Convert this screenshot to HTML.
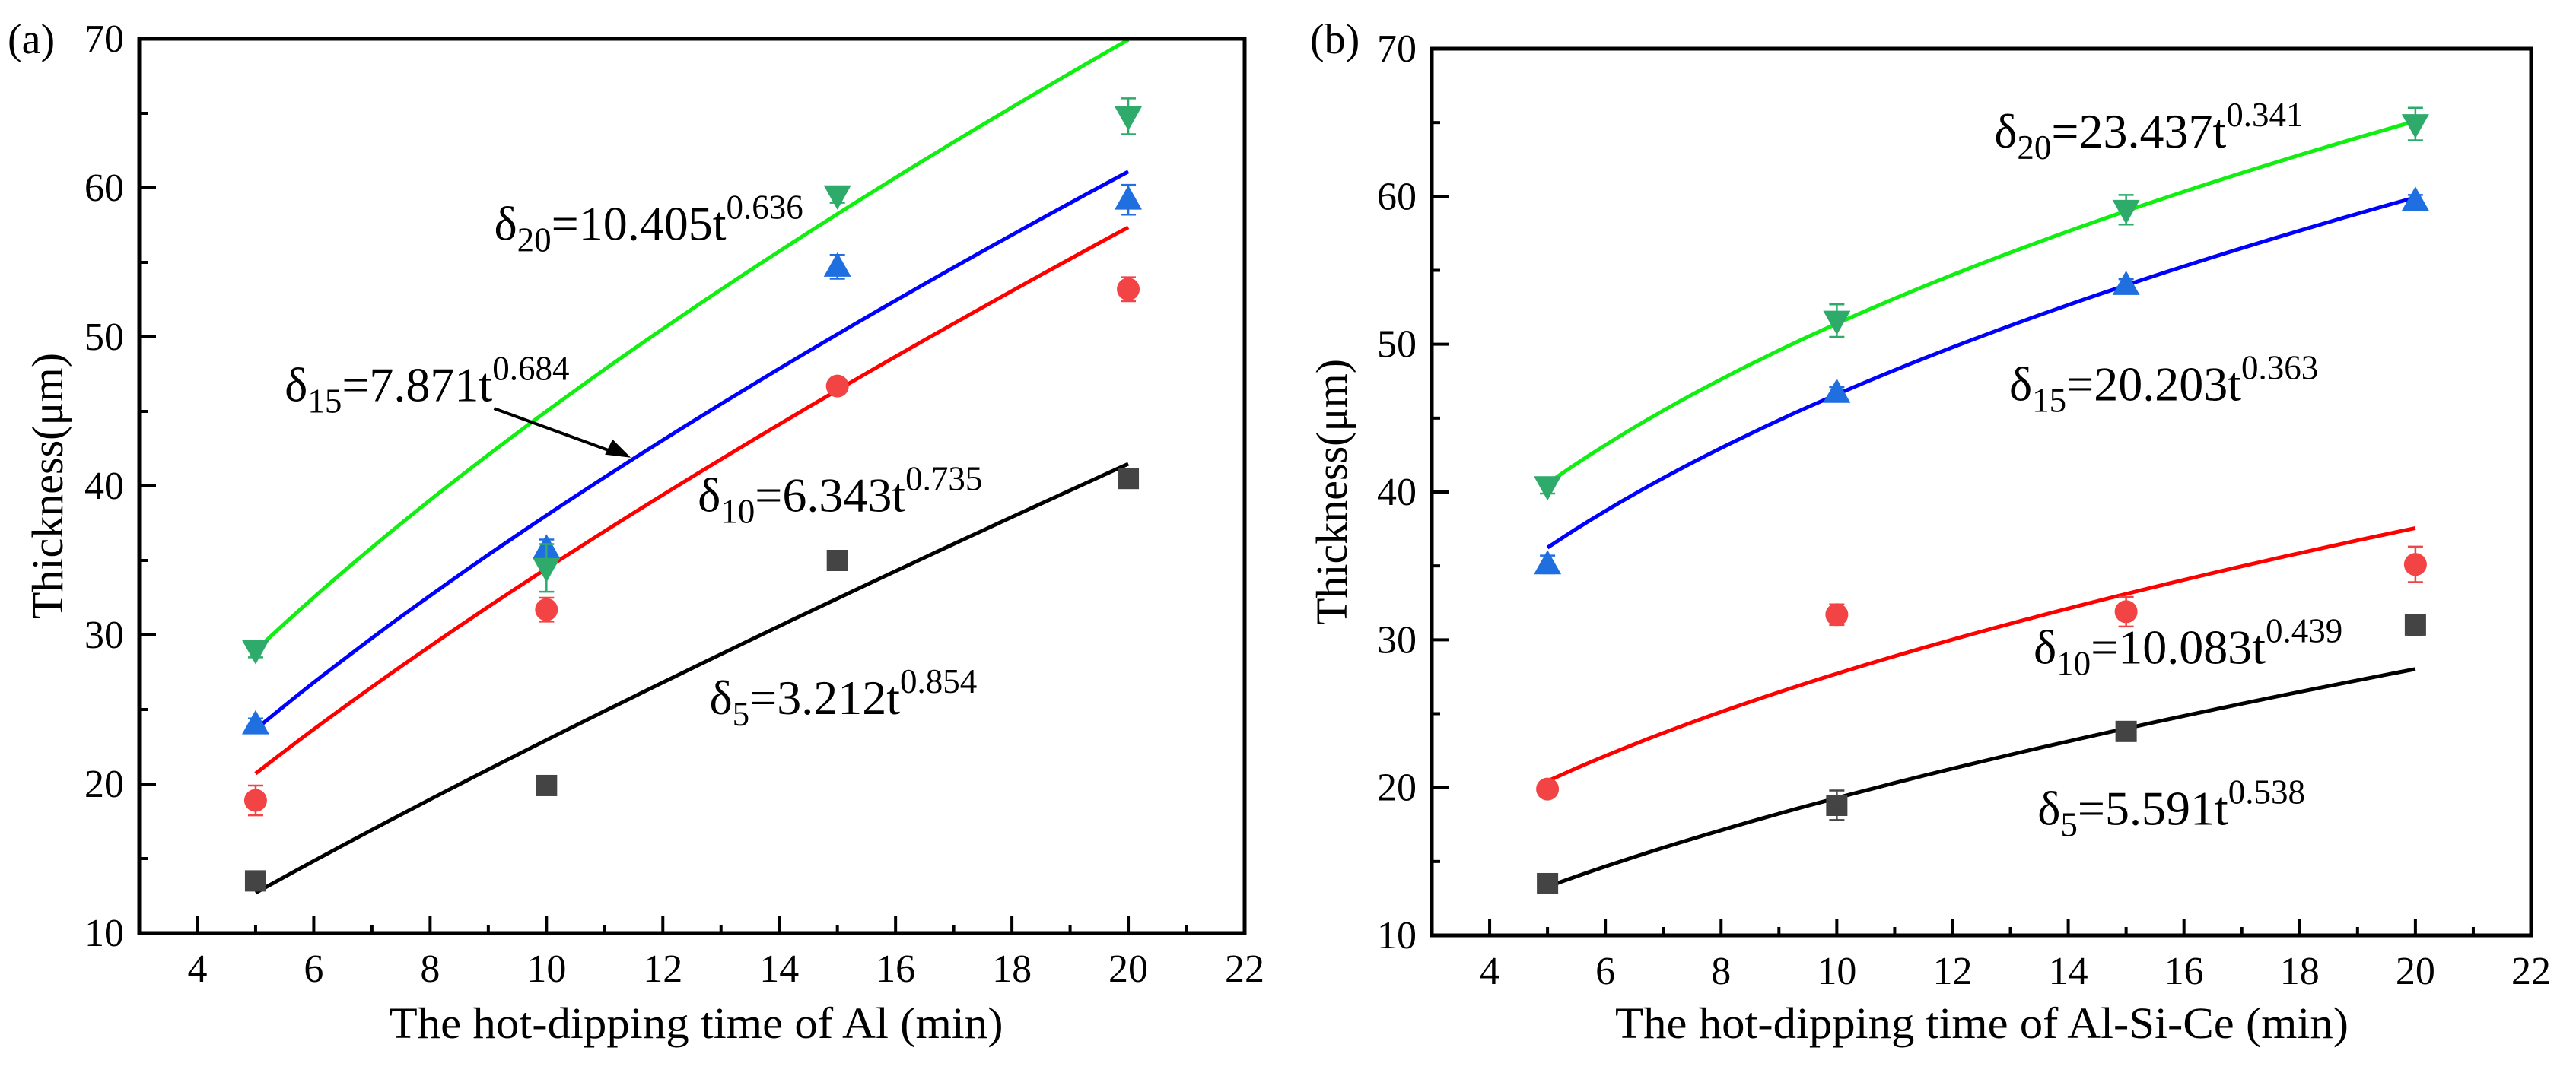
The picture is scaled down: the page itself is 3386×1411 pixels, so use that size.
<!DOCTYPE html>
<html><head><meta charset="utf-8">
<style>
html,body{margin:0;padding:0;background:#fff;}
svg{display:block;font-family:"Liberation Serif","DejaVu Serif",serif;}
svg text{font-family:"Liberation Serif","DejaVu Serif",serif;}
</style></head>
<body>
<svg id="chart" width="3386" height="1411" viewBox="0 0 3386 1411" xmlns="http://www.w3.org/2000/svg" font-family="Liberation Serif, DejaVu Serif, serif"></svg>
<script>
const times = [5, 10, 15, 20];
const xTicks = [4, 6, 8, 10, 12, 14, 16, 18, 20, 22];
const yTicks = [10, 20, 30, 40, 50, 60, 70];
const seriesNames = ['delta5', 'delta10', 'delta15', 'delta20'];

// Panel (a) Al
const a_d5 = [13.5, 19.9, 35.0, 40.5];
const a_d10 = [18.9, 31.7, 46.7, 53.2];
const a_d15 = [24.0, 35.8, 54.7, 59.2];
const a_d20 = [29.0, 34.5, 59.5, 64.8];
const a_err5 = [0.4, 0.4, 0.4, 0.4];
const a_err10 = [1.0, 0.8, 0.4, 0.8];
const a_err15 = [0.4, 0.6, 0.8, 1.0];
const a_err20 = [0.5, 1.6, 0.5, 1.2];
const a_coef = [3.212, 6.343, 7.871, 10.405];
const a_expo = [0.854, 0.735, 0.684, 0.636];

// Panel (b) Al-Si-Ce
const b_d5 = [13.5, 18.8, 23.8, 31.0];
const b_d10 = [19.9, 31.7, 31.9, 35.1];
const b_d15 = [35.1, 46.7, 54.0, 59.7];
const b_d20 = [40.4, 51.6, 59.1, 64.9];
const b_err5 = [0.3, 1.0, 0.4, 0.7];
const b_err10 = [0.4, 0.7, 1.0, 1.2];
const b_err15 = [0.6, 0.4, 0.4, 0.4];
const b_err20 = [0.5, 1.1, 1.0, 1.1];
const b_coef = [5.591, 10.083, 20.203, 23.437];
const b_expo = [0.538, 0.439, 0.363, 0.341];

const NS = 'http://www.w3.org/2000/svg';
const svg = document.getElementById('chart');
const FONT = 'Liberation Serif, DejaVu Serif, serif';
function mk(tag, attrs, parent) {
  const e = document.createElementNS(NS, tag);
  for (const k in attrs) e.setAttribute(k, attrs[k]);
  if (tag === 'text') e.setAttribute('font-family', FONT);
  (parent || svg).appendChild(e);
  return e;
}
const lineCol = ['#000000', '#ff0000', '#0000ff', '#11ee11'];
const markCol = ['#444444', '#f24444', '#1f6fe0', '#2eab6a'];
const markShape = ['square', 'circle', 'up', 'down'];

function panel(cfg) {
  const g = mk('g', {});
  
  
  const X = v => cfg.x0 + (v - 3) / 19 * (cfg.x1 - cfg.x0);
  const Y = v => cfg.y1 - (v - 10) / 60 * (cfg.y1 - cfg.y0);
  for (let v = 3; v <= 22; v++) {
    const major = v % 2 === 0;
    const t = mk('line', {x1: X(v), x2: X(v), y1: cfg.y1, y2: cfg.y1 - (major ? 22 : 11), stroke: '#000', 'stroke-width': 4}, g);
    
    
  }
  for (let v = 10; v <= 70; v += 5) {
    const major = v % 10 === 0;
    const t = mk('line', {x1: cfg.x0, x2: cfg.x0 + (major ? 22 : 11), y1: Y(v), y2: Y(v), stroke: '#000', 'stroke-width': 4}, g);
    
    
  }
  xTicks.forEach(v => {
    const t = mk('text', {x: X(v), y: cfg.y1 + 64, 'font-size': 52, 'text-anchor': 'middle'}, g);
    t.textContent = v;
    
    
  });
  yTicks.forEach(v => {
    const t = mk('text', {x: cfg.x0 - 20, y: Y(v) + 17, 'font-size': 52, 'text-anchor': 'end'}, g);
    t.textContent = v;
    
    
  });
  for (let s = 0; s < 4; s++) {
    let d = '';
    for (let i = 0; i <= 60; i++) {
      const t = 5 + 15 * i / 60;
      const v = cfg.coef[s] * Math.pow(t, cfg.expo[s]);
      d += (i ? 'L' : 'M') + X(t).toFixed(1) + ',' + Y(v).toFixed(1);
    }
    const p = mk('path', {d: d, fill: 'none', stroke: lineCol[s], 'stroke-width': 5}, g);
    
    
  }
  for (let s = 0; s < 4; s++) {
    const vals = cfg.data[s], errs = cfg.err[s];
    vals.forEach((v, i) => {
      const cx = X(times[i]), cy = Y(v);
      const e = mk('path', {d: `M${cx},${Y(v - errs[i])}V${Y(v + errs[i])}M${cx - 10},${Y(v - errs[i])}h20M${cx - 10},${Y(v + errs[i])}h20`, stroke: markCol[s], 'stroke-width': 2.5, fill: 'none'}, g);
      
      
      let m;
      const sh = markShape[s];
      if (sh === 'square') m = mk('rect', {x: cx - 14, y: cy - 14, width: 28, height: 28, fill: markCol[s]}, g);
      else if (sh === 'circle') m = mk('circle', {cx: cx, cy: cy, r: 15, fill: markCol[s]}, g);
      else if (sh === 'up') m = mk('path', {d: `M${cx},${cy - 19}L${cx + 18},${cy + 13}L${cx - 18},${cy + 13}Z`, fill: markCol[s]}, g);
      else m = mk('path', {d: `M${cx},${cy + 19}L${cx + 18},${cy - 13}L${cx - 18},${cy - 13}Z`, fill: markCol[s]}, g);
      
      
    });
  }
  const f = mk('rect', {x: cfg.x0, y: cfg.y0, width: cfg.x1 - cfg.x0, height: cfg.y1 - cfg.y0, fill: 'none', stroke: '#000', 'stroke-width': 5}, g);
  
  
  cfg.labels.forEach((L, s) => {
    const t = mk('text', {x: X(L[0]), y: Y(L[1]), 'font-size': 64}, g);
    
    
    const a = mk('tspan', {}, t); a.textContent = 'δ';
    const b = mk('tspan', {dy: 15, 'font-size': 45}, t); b.textContent = L[2];
    const c = mk('tspan', {dy: -15}, t); c.textContent = '=' + L[3] + 't';
    const d2 = mk('tspan', {dy: -28, 'font-size': 45}, t); d2.textContent = L[4];
  });
  const yt = mk('text', {x: 0, y: 0, 'font-size': 58, 'text-anchor': 'middle', transform: `translate(${cfg.ytx},${(cfg.y0 + cfg.y1) / 2}) rotate(-90)`}, g);
  yt.textContent = 'Thickness(μm)';
  
  
  const xt = mk('text', {x: cfg.xtx, y: 1365, 'font-size': 58, 'text-anchor': 'middle', textLength: cfg.xtw, lengthAdjust: 'spacingAndGlyphs'}, g);
  xt.textContent = cfg.xtitle;
  
  
  const pl = mk('text', {x: cfg.plx, y: 70, 'font-size': 56}, g);
  pl.textContent = cfg.plabel;
  
  
  return {g, X, Y};
}

const pa = panel({name: 'panel-a-al', x0: 183, x1: 1636, y0: 51, y1: 1227,
  data: [a_d5, a_d10, a_d15, a_d20], err: [a_err5, a_err10, a_err15, a_err20],
  coef: a_coef, expo: a_expo,
  labels: [[12.8, 24.7, '5', '3.212', '0.854'], [12.6, 38.3, '10', '6.343', '0.735'],
           [5.5, 45.7, '15', '7.871', '0.684'], [9.1, 56.5, '20', '10.405', '0.636']],
  ytx: 82, xtx: 915, xtw: 807, xtitle: 'The hot-dipping time of Al (min)', plx: 10, plabel: '(a)'});

const arr = mk('g', {}, pa.g);


mk('line', {x1: pa.X(9.1), y1: pa.Y(45.2), x2: pa.X(11.2), y2: pa.Y(42.2), stroke: '#000', 'stroke-width': 4}, arr);
mk('path', {d: `M${pa.X(11.45)},${pa.Y(41.9)}l-34,-4l10,-20z`, fill: '#000'}, arr);

panel({name: 'panel-b-alsice', x0: 1882, x1: 3327, y0: 64, y1: 1230,
  data: [b_d5, b_d10, b_d15, b_d20], err: [b_err5, b_err10, b_err15, b_err20],
  coef: b_coef, expo: b_expo,
  labels: [[13.47, 17.5, '5', '5.591', '0.538'], [13.4, 28.4, '10', '10.083', '0.439'],
           [12.98, 46.2, '15', '20.203', '0.363'], [12.72, 63.3, '20', '23.437', '0.341']],
  ytx: 1770, xtx: 2605, xtw: 964, xtitle: 'The hot-dipping time of Al-Si-Ce (min)', plx: 1722, plabel: '(b)'});
</script>
</body></html>
